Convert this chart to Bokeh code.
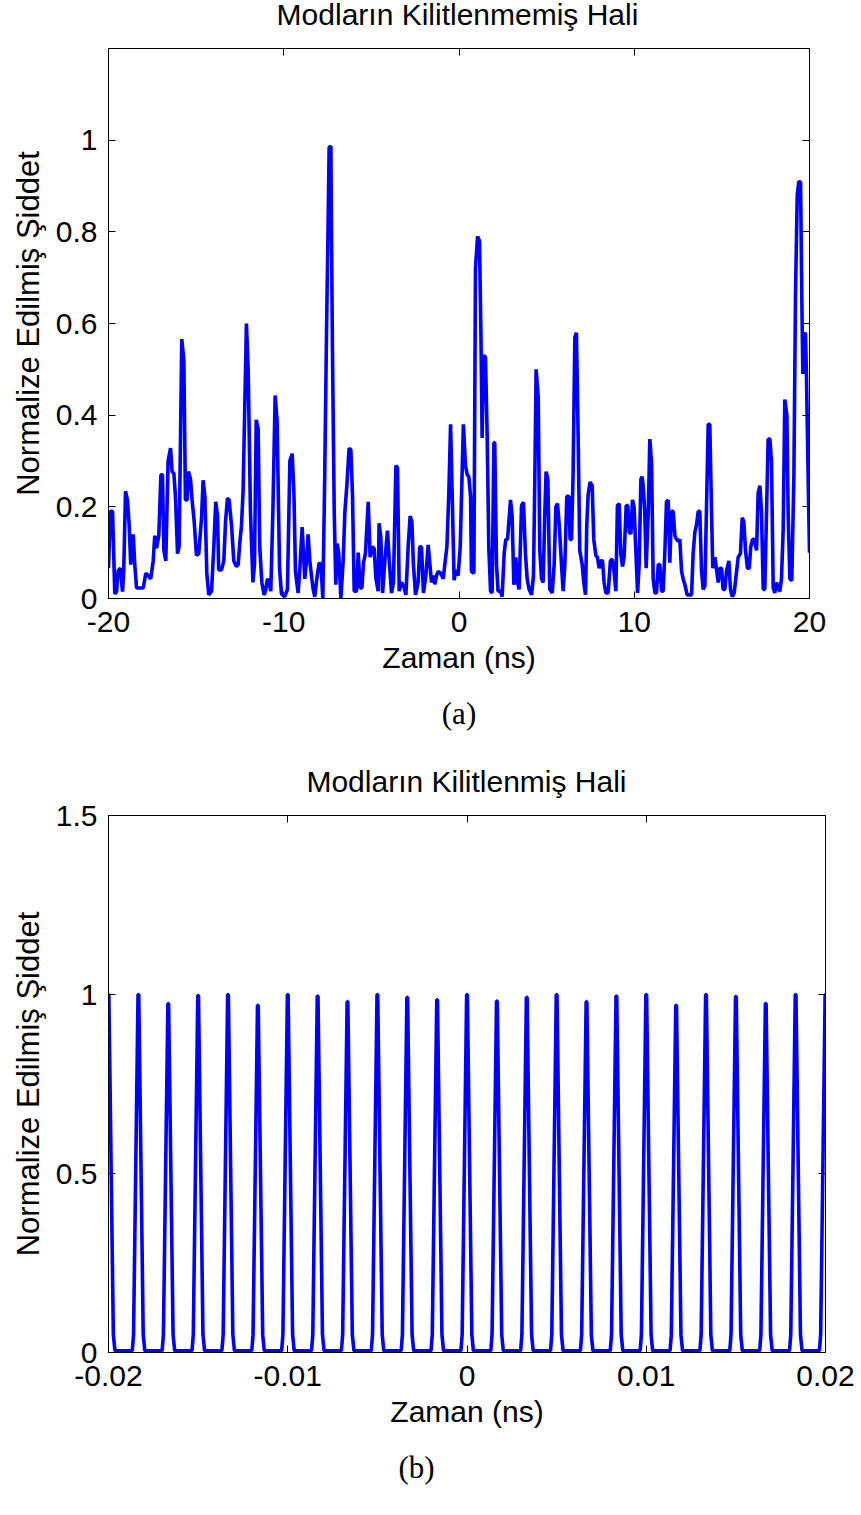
from bokeh.plotting import figure
from bokeh.models import LinearAxis, Range1d, FixedTicker, Title, Div
from bokeh.layouts import column
from bokeh.embed import file_html
from bokeh.resources import INLINE

# ---------------- Panel (a): unlocked modes ----------------
t_unlocked = [
    -20.00, -19.89, -19.77, -19.64, -19.54, -19.45, -19.32, -19.20, -19.13, -19.03,
    -18.92, -18.82, -18.73, -18.59, -18.50, -18.40, -18.31, -18.02, -17.87, -17.74,
    -17.59, -17.45, -17.36, -17.26, -17.13, -17.01, -16.92, -16.84, -16.73, -16.60,
    -16.46, -16.37, -16.27, -16.18, -16.06, -15.97, -15.82, -15.70, -15.61, -15.51,
    -15.44, -15.32, -15.23, -15.11, -14.98, -14.85, -14.69, -14.60, -14.50, -14.39,
    -14.28, -14.12, -13.99, -13.88, -13.78, -13.71, -13.55, -13.42, -13.32, -13.21,
    -13.12, -12.98, -12.85, -12.70, -12.60, -12.51, -12.41, -12.32, -12.22, -12.13,
    -12.03, -11.90, -11.76, -11.67, -11.57, -11.46, -11.37, -11.25, -11.12, -11.02,
    -10.93, -10.83, -10.74, -10.62, -10.49, -10.38, -10.24, -10.13,
    -9.94, -9.79, -9.65, -9.52, -9.42, -9.33, -9.18, -9.08, -8.95, -8.80,
    -8.70, -8.61, -8.51, -8.42, -8.32, -8.23, -8.09, -7.98, -7.88, -7.77,
    -7.66, -7.56, -7.47, -7.41, -7.31, -7.28, -7.22, -7.12, -7.03, -6.95,
    -6.86, -6.74, -6.61, -6.51, -6.40, -6.27, -6.17, -6.08, -5.98, -5.85,
    -5.75, -5.64, -5.54, -5.45, -5.34, -5.18, -5.07, -4.95, -4.84, -4.74,
    -4.61, -4.56, -4.46, -4.36, -4.23, -4.08, -3.98, -3.85, -3.74, -3.60,
    -3.51, -3.41, -3.28, -3.15, -3.03, -2.90, -2.79, -2.69, -2.60, -2.48,
    -2.33, -2.24, -2.14, -2.03, -1.89, -1.76, -1.66, -1.57, -1.47, -1.38,
    -1.28, -1.19, -1.04, -0.90, -0.81, -0.69, -0.58, -0.48, -0.39, -0.28,
    -0.18, -0.05, 0.07,
    0.25, 0.37, 0.47, 0.56, 0.66, 0.71, 0.85, 0.94, 1.06, 1.17,
    1.25, 1.32, 1.40, 1.51, 1.61, 1.70, 1.80, 1.89, 1.99, 2.04,
    2.14, 2.23, 2.37, 2.46, 2.58, 2.67, 2.77, 2.94, 3.03, 3.13,
    3.24, 3.34, 3.43, 3.57, 3.68, 3.79, 3.89, 4.00, 4.14, 4.25,
    4.33, 4.40, 4.52, 4.61, 4.71, 4.80, 4.90, 4.97, 5.07, 5.18,
    5.32, 5.43, 5.53, 5.62, 5.72, 5.85, 5.94, 6.04, 6.15, 6.27,
    6.34, 6.42, 6.51, 6.61, 6.70, 6.80, 6.89, 7.03, 7.12, 7.22,
    7.29, 7.37, 7.48, 7.60, 7.69, 7.81, 7.90, 8.00, 8.09, 8.19,
    8.28, 8.38, 8.51, 8.64, 8.74, 8.85, 8.95, 9.04, 9.14, 9.23,
    9.33, 9.42, 9.54, 9.63, 9.71, 9.81, 9.90, 9.99, 10.09, 10.19,
    10.28, 10.38, 10.45,
    10.51, 10.60, 10.68, 10.80, 10.89, 10.99, 11.08, 11.18, 11.27, 11.37,
    11.46, 11.56, 11.65, 11.75, 11.84, 11.94, 12.03, 12.13, 12.22, 12.32,
    12.41, 12.51, 12.60, 12.70, 12.79, 12.89, 13.02, 13.13, 13.27, 13.36,
    13.46, 13.55, 13.65, 13.74, 13.84, 13.93, 14.03, 14.14, 14.22, 14.31,
    14.41, 14.48, 14.60, 14.69, 14.79, 14.88, 14.98, 15.07, 15.17, 15.26,
    15.40, 15.49, 15.59, 15.70, 15.84, 15.93, 16.06, 16.16, 16.25, 16.35,
    16.46, 16.56, 16.65, 16.75, 16.84, 16.98, 17.07, 17.17, 17.26, 17.36,
    17.45, 17.55, 17.64, 17.74, 17.83, 17.93, 18.02, 18.12, 18.21, 18.31,
    18.40, 18.50, 18.59, 18.71, 18.78, 18.88, 18.99, 19.11, 19.20, 19.30,
    19.39, 19.49, 19.56, 19.62, 19.70, 19.77, 19.83, 19.92, 20.00,
]
i_unlocked = [
    0.066, 0.19, 0.19, 0.01, 0.015, 0.06, 0.066, 0.015, 0.06, 0.234,
    0.215, 0.16, 0.074, 0.14, 0.074, 0.023, 0.023, 0.023, 0.055, 0.05,
    0.043, 0.082, 0.137, 0.11, 0.137, 0.27, 0.27, 0.105, 0.082, 0.30,
    0.328, 0.277, 0.273, 0.223, 0.098, 0.113, 0.566, 0.52, 0.215, 0.215,
    0.277, 0.26, 0.215, 0.168, 0.094, 0.098, 0.176, 0.258, 0.223, 0.055,
    0.008, 0.016, 0.113, 0.211, 0.18, 0.0625, 0.0625, 0.082, 0.168, 0.219,
    0.215, 0.16, 0.082, 0.07, 0.074, 0.12, 0.16, 0.234, 0.426, 0.60,
    0.50, 0.19, 0.035, 0.074, 0.39, 0.37, 0.113, 0.035, 0.008, 0.02,
    0.043, 0.035, 0.016, 0.19, 0.443, 0.387, 0.066, 0.01,
    0.004, 0.02, 0.30, 0.316, 0.23, 0.059, 0.012, 0.066, 0.156, 0.043,
    0.082, 0.14, 0.082, 0.05, 0.02, 0.004, 0.05, 0.078, 0.074, 0.0,
    0.27, 0.58, 0.816, 0.984, 0.987, 0.816, 0.54, 0.19, 0.03, 0.12,
    0.098, 0.0, 0.082, 0.19, 0.246, 0.328, 0.324, 0.23, 0.016, 0.016,
    0.10, 0.023, 0.023, 0.078, 0.098, 0.211, 0.09, 0.113, 0.109, 0.043,
    0.016, 0.164, 0.133, 0.012, 0.082, 0.148, 0.082, 0.012, 0.035, 0.29,
    0.285, 0.016, 0.035, 0.027, 0.008, 0.113, 0.18, 0.168, 0.074, 0.008,
    0.035, 0.113, 0.113, 0.012, 0.05, 0.117, 0.074, 0.035, 0.05, 0.031,
    0.05, 0.059, 0.055, 0.043, 0.074, 0.113, 0.23, 0.38, 0.23, 0.04,
    0.0625, 0.05, 0.113,
    0.38, 0.29, 0.27, 0.266, 0.223, 0.059, 0.055, 0.72, 0.79, 0.78,
    0.58, 0.35, 0.53, 0.527, 0.35, 0.113, 0.016, 0.012, 0.34, 0.34,
    0.074, 0.016, 0.016, 0.004, 0.10, 0.129, 0.129, 0.215, 0.18, 0.03,
    0.09, 0.035, 0.02, 0.203, 0.21, 0.098, 0.043, 0.02, 0.008, 0.05,
    0.27, 0.50, 0.44, 0.105, 0.043, 0.035, 0.19, 0.277, 0.26, 0.02,
    0.012, 0.074, 0.20, 0.207, 0.16, 0.074, 0.016, 0.074, 0.223, 0.223,
    0.129, 0.129, 0.27, 0.57, 0.58, 0.35, 0.105, 0.074, 0.035, 0.008,
    0.16, 0.227, 0.254, 0.246, 0.129, 0.094, 0.09, 0.066, 0.082, 0.082,
    0.035, 0.012, 0.012, 0.082, 0.086, 0.059, 0.016, 0.203, 0.207, 0.098,
    0.07, 0.09, 0.203, 0.203, 0.145, 0.141, 0.215, 0.20, 0.105, 0.012,
    0.074, 0.26, 0.266,
    0.246, 0.19, 0.066, 0.19, 0.348, 0.293, 0.043, 0.012, 0.012, 0.074,
    0.074, 0.016, 0.016, 0.105, 0.211, 0.215, 0.078, 0.19, 0.19, 0.137,
    0.129, 0.125, 0.129, 0.059, 0.043, 0.03, 0.008, 0.008, 0.008, 0.098,
    0.145, 0.16, 0.19, 0.19, 0.059, 0.02, 0.027, 0.23, 0.38, 0.38,
    0.19, 0.066, 0.09, 0.066, 0.035, 0.066, 0.066, 0.02, 0.02, 0.059,
    0.082, 0.02, 0.004, 0.012, 0.059, 0.09, 0.098, 0.176, 0.168, 0.105,
    0.066, 0.066, 0.113, 0.129, 0.129, 0.105, 0.23, 0.246, 0.19, 0.02,
    0.02, 0.19, 0.348, 0.348, 0.30, 0.023, 0.012, 0.035, 0.02, 0.016,
    0.043, 0.152, 0.434, 0.40, 0.19, 0.043, 0.039, 0.27, 0.66, 0.88,
    0.91, 0.908, 0.66, 0.49, 0.575, 0.58, 0.48, 0.27, 0.10,
]
a_xticks = [-20, -10, 0, 10, 20]
a_xtick_labels = ["-20", "-10", "0", "10", "20"]
a_yticks = [0, 0.2, 0.4, 0.6, 0.8, 1.0]
a_ytick_labels = ["0", "0.2", "0.4", "0.6", "0.8", "1"]

# ---------------- Panel (b): locked modes ----------------
pulse_times = [
    -0.02, -0.018333, -0.016667, -0.015, -0.013333, -0.011667, -0.01,
    -0.008333, -0.006667, -0.005, -0.003333, -0.001667, 0.0,
    0.001667, 0.003333, 0.005, 0.006667, 0.008333, 0.01,
    0.011667, 0.013333, 0.015, 0.016667, 0.018333, 0.02,
]
pulse_peaks = [
    1.0, 1.0, 0.975, 0.997, 1.0, 0.97, 1.0, 0.996, 0.98, 1.0, 0.992, 0.985, 1.0,
    0.982, 0.992, 1.0, 0.98, 0.996, 1.0, 0.97, 1.0, 0.994, 0.975, 1.0, 1.0,
]
pulse_offsets = [-0.00034, -0.00027, -0.00002, 0.00002, 0.00027, 0.00036]
pulse_profile = [0.005, 0.05, 1.0, 1.0, 0.05, 0.005]
b_xticks = [-0.02, -0.01, 0.0, 0.01, 0.02]
b_xtick_labels = ["-0.02", "-0.01", "0", "0.01", "0.02"]
b_yticks = [0.0, 0.5, 1.0, 1.5]
b_ytick_labels = ["0", "0.5", "1", "1.5"]

t_locked = []
i_locked = []
for tc, pk in zip(pulse_times, pulse_peaks):
    for off, rel in zip(pulse_offsets, pulse_profile):
        t_locked.append(tc + off)
        i_locked.append(pk * rel if rel > 0.01 else rel)

FONT = "Liberation Sans"
TICK_SIZE = "30px"
XLABEL_SIZE = "30px"
YLABEL_SIZE = "31px"
CAP_SIZE = "31px"
BLUE = "#0000ff"
PAGE_W = 861


def style_axis(ax, ticks, labels, show_labels=True, label_size=XLABEL_SIZE):
    ax.ticker = FixedTicker(ticks=ticks)
    ax.major_tick_in = 7
    ax.major_tick_out = 0
    ax.minor_tick_in = 0
    ax.minor_tick_out = 0
    ax.axis_line_color = "black"
    ax.axis_line_width = 1
    ax.major_tick_line_color = "black"
    ax.major_label_text_font = FONT
    ax.axis_label_text_font = FONT
    ax.axis_label_text_font_size = label_size
    ax.axis_label_text_font_style = "normal"
    ax.axis_label_text_color = "black"
    if show_labels:
        ax.major_label_overrides = {float(t): l for t, l in zip(ticks, labels)}
        ax.major_label_text_font_size = TICK_SIZE
        ax.major_label_text_color = "black"
    else:
        ax.major_label_overrides = {float(t): "" for t in ticks}
        ax.major_label_text_color = None
        ax.major_label_standoff = 0


def title_div(text, height, pad_top, pad_left, inner_w):
    html = ('<div style="width:%dpx; margin-left:%dpx; padding-top:%dpx; text-align:center; '
            'font-family:\'Liberation Sans\'; font-size:30px; line-height:30px; '
            'color:black; white-space:nowrap;">%s</div>' % (inner_w, pad_left, pad_top, text))
    return Div(text=html, width=PAGE_W, height=height, margin=(0, 0, 0, 0))


def make_panel(xs, ys, xr, yr, xticks, xlabels, yticks, ylabels, caption,
               fw, fh, left, right, top, bottom, cap_standoff, cap_align, cap_offset):
    p = figure(frame_width=fw, frame_height=fh, x_range=Range1d(*xr), y_range=Range1d(*yr),
               output_backend="svg", toolbar_location=None,
               min_border_left=left, min_border_right=right,
               min_border_top=top, min_border_bottom=bottom,
               x_axis_location=None, y_axis_location=None)
    p.background_fill_color = "white"
    p.border_fill_color = "white"
    p.outline_line_color = "black"
    p.outline_line_width = 1
    p.xgrid.visible = False
    p.ygrid.visible = False

    xb = LinearAxis(axis_label="Zaman (ns)")
    style_axis(xb, xticks, xlabels)
    xb.major_label_standoff = 13
    xb.axis_label_standoff = 6
    p.add_layout(xb, "below")
    xa = LinearAxis()
    style_axis(xa, xticks, xlabels, show_labels=False)
    p.add_layout(xa, "above")

    yl = LinearAxis(axis_label="Normalize Edilmiş Şiddet")
    style_axis(yl, yticks, ylabels, label_size=YLABEL_SIZE)
    yl.major_label_standoff = 11
    yl.axis_label_standoff = 7
    p.add_layout(yl, "left")
    yr_ax = LinearAxis()
    style_axis(yr_ax, yticks, ylabels, show_labels=False)
    p.add_layout(yr_ax, "right")

    p.line(xs, ys, line_color=BLUE, line_width=3.6)

    cap = Title(text=caption, align=cap_align, offset=cap_offset,
                text_font="Liberation Serif", text_font_size=CAP_SIZE,
                text_font_style="normal", text_color="black", standoff=cap_standoff)
    p.add_layout(cap, "below")
    return p


div_a = title_div("Modların Kilitlenmemiş Hali", 48, 0, 107, 701)
pa = make_panel(t_unlocked, i_unlocked, (-20, 20), (0, 1.2), a_xticks, a_xtick_labels,
                a_yticks, a_ytick_labels, "(a)", 701, 550, 107, 53, 0, 162, 35, "center", 0)
div_b = title_div("Modların Kilitlenmiş Hali", 39, 7, 108, 717)
pb = make_panel(t_locked, i_locked, (-0.02, 0.02), (0, 1.5), b_xticks, b_xtick_labels,
                b_yticks, b_ytick_labels, "(b)", 717, 537, 108, 36, 16, 163, 35, "left", 290)

layout = column(div_a, pa, div_b, pb, spacing=0)
open("out.html", "w").write(file_html(layout, INLINE))
